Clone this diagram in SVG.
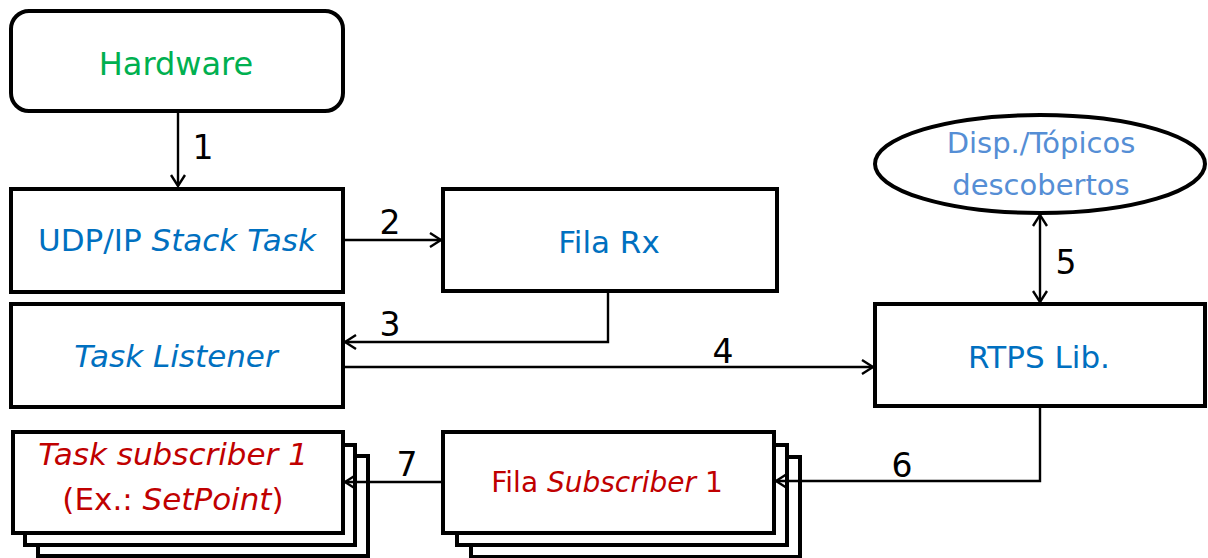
<svg xmlns="http://www.w3.org/2000/svg" width="1208" height="558" viewBox="0 0 1208 558">
<style>
  .box { fill: #fff; stroke: #000; stroke-width: 4; }
  .con { fill: none; stroke: #000; stroke-width: 2.4; }
  text { font-family: "DejaVu Sans", "Liberation Sans", sans-serif; text-anchor: middle; }
  .blue { fill: #0070C0; font-size: 31px; }
  .green { fill: #00B050; font-size: 32px; }
  .lblue { fill: #558ED5; font-size: 29px; }
  .red { fill: #C00000; font-size: 31px; }
  .num { fill: #000; font-size: 33px; }
  .it { font-style: italic; }
</style>
<defs>
  <marker id="ah" viewBox="0 0 13 16" refX="12" refY="8" markerWidth="13" markerHeight="16" markerUnits="userSpaceOnUse" orient="auto-start-reverse">
    <path d="M1 1 L12 8 L1 15" fill="none" stroke="#000" stroke-width="2.4"/>
  </marker>
</defs>
<rect width="1208" height="558" fill="#fff"/>

<g id="hardware">
  <rect class="box" x="11" y="11" width="332" height="100" rx="18"/>
  <text class="green" x="176" y="75">Hardware</text>
</g>

<g id="udp-stack">
  <rect class="box" x="11" y="189" width="332" height="103"/>
  <text class="blue" x="177" y="251">UDP/IP <tspan class="it">Stack Task</tspan></text>
</g>

<g id="fila-rx">
  <rect class="box" x="443" y="189" width="334" height="102"/>
  <text class="blue" x="609" y="253">Fila Rx</text>
</g>

<g id="task-listener">
  <rect class="box" x="11" y="304" width="332" height="103"/>
  <text class="blue it" x="176" y="367">Task Listener</text>
</g>

<g id="discovered">
  <ellipse cx="1040" cy="164" rx="165" ry="49" fill="#fff" stroke="#000" stroke-width="4"/>
  <text class="lblue" x="1041" y="153">Disp./Tópicos</text>
  <text class="lblue" x="1041" y="195">descobertos</text>
</g>

<g id="rtps-lib">
  <rect class="box" x="875" y="304" width="330" height="102"/>
  <text class="blue" x="1039" y="368">RTPS Lib.</text>
</g>

<g id="fila-subscriber">
  <rect class="box" x="471" y="457" width="329" height="100"/>
  <rect class="box" x="457" y="445" width="330" height="100"/>
  <rect class="box" x="443" y="432" width="331" height="101"/>
  <text class="red" style="font-size:28px" x="607" y="492">Fila <tspan class="it">Subscriber</tspan> 1</text>
</g>

<g id="task-subscriber">
  <rect class="box" x="38" y="456" width="330" height="100"/>
  <rect class="box" x="25" y="445" width="330" height="100"/>
  <rect class="box" x="13" y="432" width="330" height="101"/>
  <text class="red it" x="173" y="465">Task subscriber 1</text>
  <text class="red" x="173" y="510">(Ex.: <tspan class="it">SetPoint</tspan>)</text>
</g>

<g id="connectors">
  <path class="con" d="M178 113 V186" marker-end="url(#ah)"/>
  <path class="con" d="M345 240 H441" marker-end="url(#ah)"/>
  <path class="con" d="M608 293 V342 H345" marker-end="url(#ah)"/>
  <path class="con" d="M345 367 H873" marker-end="url(#ah)"/>
  <path class="con" d="M1040 215 V302" marker-start="url(#ah)" marker-end="url(#ah)"/>
  <path class="con" d="M1040 408 V481 H776" marker-end="url(#ah)"/>
  <path class="con" d="M441 482 H345" marker-end="url(#ah)"/>
  <text class="num" x="203" y="159">1</text>
  <text class="num" x="390" y="234">2</text>
  <text class="num" x="390" y="336">3</text>
  <text class="num" x="723" y="363">4</text>
  <text class="num" x="1066" y="274">5</text>
  <text class="num" x="902" y="477">6</text>
  <text class="num" x="407" y="476">7</text>
</g>
</svg>
